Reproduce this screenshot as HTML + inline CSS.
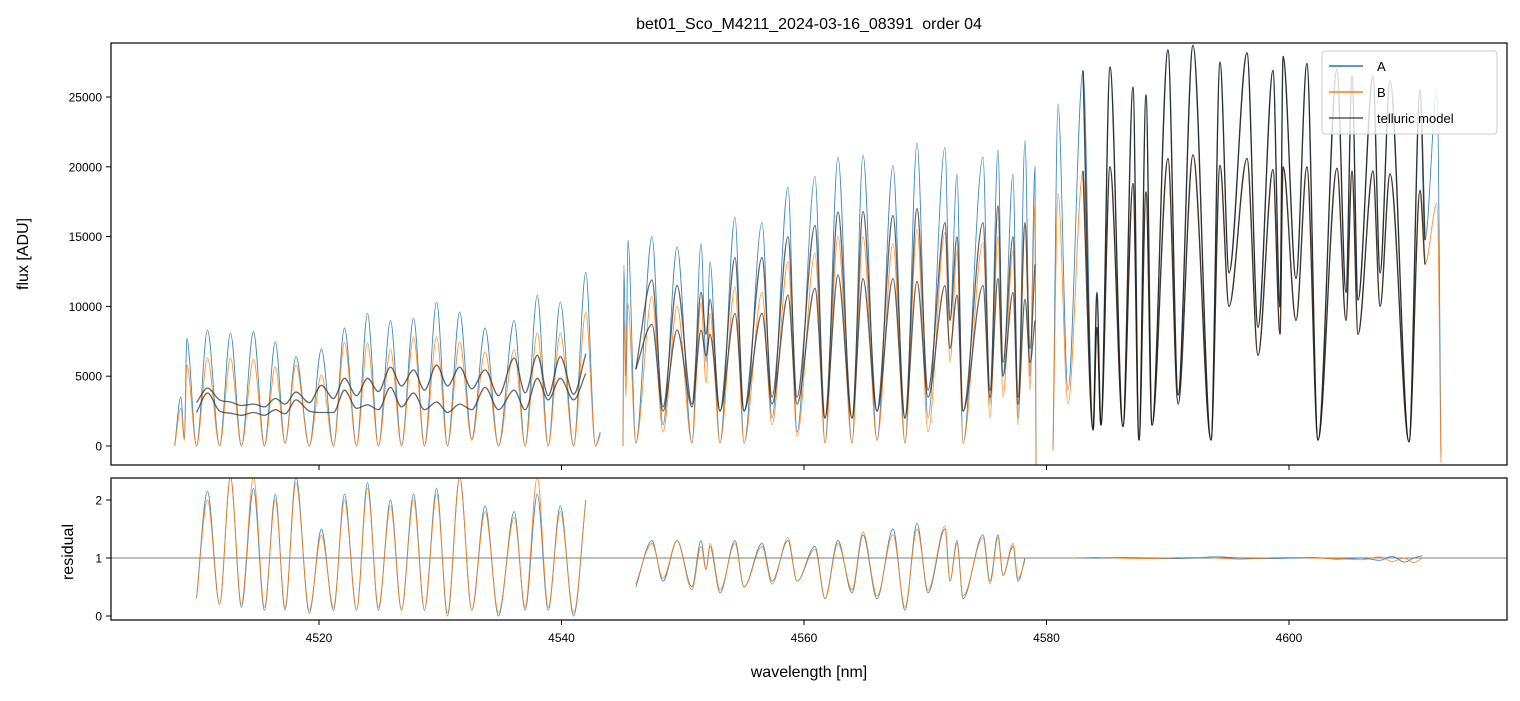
<!DOCTYPE html>
<html><head><meta charset="utf-8"><style>
body{margin:0;background:#fff}
svg text{font-family:"Liberation Sans","DejaVu Sans",sans-serif}
</style></head><body>
<svg id="fig" width="1520" height="696" xmlns="http://www.w3.org/2000/svg">
<defs>
<clipPath id="c1"><rect x="111" y="43" width="1396" height="422"/></clipPath>
<clipPath id="c2"><rect x="111" y="478" width="1396" height="142"/></clipPath>
</defs>
<text x="809" y="29" font-size="16" text-anchor="middle">bet01_Sco_M4211_2024-03-16_08391&#160; order 04</text>
<g id="topPanel"></g>
<g id="botPanel"></g>
<rect x="111" y="43" width="1396" height="422" fill="none" stroke="#000" stroke-width="1.2"/>
<rect x="111" y="478" width="1396" height="142" fill="none" stroke="#000" stroke-width="1.2"/>
<text transform="translate(28,254) rotate(-90)" font-size="16" text-anchor="middle">flux [ADU]</text>
<text transform="translate(73,552) rotate(-90)" font-size="16" text-anchor="middle">residual</text>
<text x="809" y="677" font-size="16" text-anchor="middle">wavelength [nm]</text>
<g id="legendG">
<rect x="1322" y="51" width="175" height="83" rx="3" fill="#fff" fill-opacity="0.8" stroke="#ccc"/>
<line x1="1329" y1="66" x2="1363" y2="66" stroke="#1f77b4" stroke-width="1.5"/>
<text x="1377" y="71" font-size="13">A</text>
<line x1="1329" y1="92" x2="1363" y2="92" stroke="#ff7f0e" stroke-width="1.5"/>
<text x="1377" y="97" font-size="13">B</text>
<line x1="1329" y1="118" x2="1363" y2="118" stroke="#555" stroke-width="1.5"/>
<text x="1377" y="123" font-size="13">telluric model</text>
</g>
</svg>
<script>
const lam1=[4508.1,4508.6,4508.9,4509.1,4509.9,4510.8,4511.8,4512.7,4513.6,4514.6,4515.5,4516.4,4517.2,4518.1,4519.2,4520.2,4521.2,4522.1,4523.1,4524.0,4524.9,4525.9,4526.8,4527.8,4528.7,4529.7,4530.6,4531.6,4532.6,4533.7,4534.8,4536.1,4537.0,4538.0,4538.9,4539.9,4541.0,4542.0,4542.8,4543.2];
const fluxA1=[0,3500,500,7700,0,8300,0,8100,0,8200,0,7450,200,6400,0,6950,0,8450,0,9500,0,9000,0,9150,0,10300,0,9600,500,8450,0,9000,0,10800,0,10300,0,12450,0,1000];
const fluxB1=[0,2700,400,5800,0,6300,0,6300,0,6200,0,5700,200,5800,0,5100,0,7400,0,7400,0,6900,0,7800,0,7800,0,7450,400,6750,0,6900,0,8100,0,8100,0,9600,0,800];
const modelHi1=[3100,4150,3300,3150,2900,3000,2800,3400,3000,3870,3100,4350,3400,4850,3600,4850,3900,5650,4300,5450,4000,5800,4300,5650,4100,5450,3600,6300,3800,6500,3600,6400,3700,6600];
const modelLo1=[2400,3800,2500,2350,2200,2400,2200,2600,2300,3300,2500,2400,2400,4000,2700,2950,2600,4200,2800,3800,2600,3150,2400,3000,2600,4200,2600,4000,2600,4850,3300,4850,3300,5200];
const resA1=[0.3,2.15,0.2,2.4,0.15,2.2,0.1,2.1,0.1,2.4,0.05,1.5,0.1,2.1,0.1,2.3,0.1,2.0,0.1,2.1,0.1,2.2,0.0,2.4,0.1,1.9,0.0,1.8,0.1,2.1,0.1,1.9,0.0,2.0];
const resB1=[0.3,2.0,0.2,2.4,0.2,2.4,0.15,2.0,0.15,2.3,0.1,1.4,0.15,2.0,0.1,2.2,0.15,1.9,0.1,2.0,0.1,2.1,0.05,2.4,0.1,1.8,0.05,1.7,0.15,2.4,0.15,1.8,0.05,2.0];

const lam2=[4545.07,4545.15,4545.31,4545.48,4546.13,4547.46,4548.37,4549.53,4550.76,4551.51,4551.92,4552.25,4553.07,4554.31,4555.05,4556.54,4557.36,4558.68,4559.42,4560.91,4561.73,4562.80,4563.96,4564.87,4566.02,4567.34,4568.33,4569.32,4570.23,4571.63,4572.04,4572.62,4573.11,4574.76,4575.34,4576.00,4576.41,4577.24,4577.65,4578.23,4578.64,4579.05,4579.13];
const fluxA2=[0,12950,5000,14750,200,15000,1500,14250,200,14500,6000,13200,200,16400,200,16000,2000,18550,1000,19300,200,20700,200,20850,400,20100,200,21700,2000,21400,9000,19500,200,20700,3000,21200,5000,19500,2000,21900,5000,20000,-1500];
const fluxB2=[0,9000,3500,10200,200,10700,1000,10000,200,10300,4500,9500,200,11400,200,11000,1500,13200,700,13800,200,15000,200,15000,400,14500,200,15500,1000,15300,6000,14000,200,14600,2000,15000,3500,14000,1500,15800,4000,17400,-1500];
const modelHi2=[5500,11900,2800,11500,3000,11000,8000,10500,2500,13500,2500,13500,3500,15000,3500,15800,2000,16760,2000,16800,2500,16500,2000,17000,4000,16000,9000,15000,2500,16000,4000,17200,6000,15000,3500,16000,7000,13000];
const modelLo2=[5500,8700,2500,8300,2800,8300,6500,8000,2500,9500,2500,9500,3000,10800,3000,11300,2000,12250,2000,12000,2500,12000,2000,11800,3500,11500,7000,10800,2500,11500,3500,12000,5000,11000,3000,10500,6000,9000];
const resA2=[0.5,1.3,0.6,1.3,0.5,1.3,0.8,1.2,0.4,1.3,0.5,1.25,0.6,1.3,0.6,1.2,0.3,1.3,0.4,1.4,0.3,1.5,0.1,1.6,0.4,1.5,0.6,1.3,0.3,1.4,0.6,1.4,0.7,1.2,0.6,1.0];
const resB2=[0.55,1.25,0.65,1.3,0.45,1.2,0.8,1.25,0.45,1.25,0.5,1.2,0.55,1.35,0.6,1.15,0.3,1.25,0.45,1.45,0.35,1.4,0.15,1.5,0.45,1.55,0.6,1.25,0.35,1.35,0.55,1.35,0.7,1.25,0.65,0.95];

const lam3=[4580.54,4580.95,4581.77,4583.01,4583.84,4584.16,4584.49,4585.24,4586.31,4587.13,4587.63,4588.21,4588.70,4590.02,4590.85,4592.08,4593.57,4594.31,4595.05,4596.54,4597.44,4598.68,4599.26,4599.51,4600.58,4601.48,4602.39,4603.96,4604.70,4605.20,4605.69,4606.93,4607.51,4608.33,4609.90,4610.80,4611.22,4612.21,4612.54];
const fluxA3=[-300,24500,4000,26900,1150,11000,1500,27150,1400,25700,430,25150,1500,28370,3650,28700,430,27500,12400,28150,8500,26900,9950,27900,12000,27400,430,27000,11000,26500,10450,26500,12400,26200,300,25500,14750,25500,-800];
const fluxB3=[-300,18100,3000,19700,1150,8500,1500,20000,1400,18800,430,18200,1500,20600,3000,20850,430,20100,10000,20600,6500,19800,8000,20000,9000,20000,430,19900,9000,19700,8000,19700,10000,19500,300,18300,13000,17400,-1200];
const resLam3=[4582.0,4584,4586,4588,4590,4592,4594,4596,4598,4600,4602,4604,4606,4607.5,4608.5,4609.5,4610.3,4611.0];
const resA3=[1.0,1.0,1.01,1.0,0.99,1.0,1.02,1.0,0.99,1.0,1.01,0.98,1.0,0.96,1.03,0.93,1.0,1.04];
const resB3=[1.0,1.01,1.0,0.99,1.0,1.01,1.0,0.98,1.0,1.01,1.0,0.99,0.97,1.02,0.94,1.0,0.92,1.0];

const xTicks=[4520,4540,4560,4580,4600];
const yTicks=[0,5000,10000,15000,20000,25000];
const rTicks=[0,1,2];

const X=l=>319+(l-4520)*12.125;
const Y=v=>446-v*0.01396;
const R=v=>616-v*58;
const NS='http://www.w3.org/2000/svg';
function mk(tag,attrs,parent){const e=document.createElementNS(NS,tag);for(const k in attrs)e.setAttribute(k,attrs[k]);parent.appendChild(e);return e;}
// monotone cubic (Fritsch-Carlson) path
function pathD(xs,ys,fy){
  const px=xs.map(X),py=ys.map(fy),n=px.length;
  const d=[],m=new Array(n).fill(0);
  for(let i=0;i<n-1;i++)d.push((py[i+1]-py[i])/((px[i+1]-px[i])||1e-6));
  m[0]=d[0];m[n-1]=d[n-2];
  for(let i=1;i<n-1;i++){m[i]=(d[i-1]*d[i]<=0)?0:(d[i-1]+d[i])/2;}
  for(let i=0;i<n-1;i++){
    if(d[i]===0){m[i]=0;m[i+1]=0;continue;}
    const a=m[i]/d[i],b=m[i+1]/d[i],s=a*a+b*b;
    if(s>9){const t=3/Math.sqrt(s);m[i]=t*a*d[i];m[i+1]=t*b*d[i];}
  }
  let s='M'+px[0].toFixed(1)+','+py[0].toFixed(1);
  for(let i=0;i<n-1;i++){
    const h=(px[i+1]-px[i])/3;
    s+=' C'+(px[i]+h).toFixed(1)+','+(py[i]+m[i]*h).toFixed(1)+' '+(px[i+1]-h).toFixed(1)+','+(py[i+1]-m[i+1]*h).toFixed(1)+' '+px[i+1].toFixed(1)+','+py[i+1].toFixed(1);
  }
  return s;
}
const gTop=document.getElementById('topPanel'),gBot=document.getElementById('botPanel');
const gT=mk('g',{'clip-path':'url(#c1)'},gTop);
const gB=mk('g',{'clip-path':'url(#c2)'},gBot);
function drawLine(g,xs,ys,fy,col,w,op,name){
  const e=mk('path',{d:pathD(xs,ys,fy),fill:'none',stroke:col,'stroke-width':w,'stroke-opacity':op,'stroke-linejoin':'round'},g);
  
  
}
const BL='#1f77b4',OR='#ff7f0e',MD='#333';
[[lam1,fluxA1,fluxB1],[lam2,fluxA2,fluxB2],[lam3,fluxA3,fluxB3]].forEach((s,i)=>{
  drawLine(gT,s[0],s[1],Y,BL,0.9,0.85,'series-a-seg'+(i+1));
  drawLine(gT,s[0],s[2],Y,OR,0.9,0.85,'series-b-seg'+(i+1));
});
drawLine(gT,lam1.slice(4,38),modelHi1,Y,MD,1.3,0.75,'model-upper-seg1');
drawLine(gT,lam1.slice(4,38),modelLo1,Y,MD,1.3,0.75,'model-lower-seg1');
drawLine(gT,lam2.slice(4,42),modelHi2,Y,MD,1.3,0.75,'model-upper-seg2');
drawLine(gT,lam2.slice(4,42),modelLo2,Y,MD,1.3,0.75,'model-lower-seg2');
drawLine(gT,lam3.slice(3,37),fluxA3.slice(3,37),Y,'#1a1a1a',1.4,0.8,'model-upper-seg3');
drawLine(gT,lam3.slice(3,37),fluxB3.slice(3,37),Y,'#1a1a1a',1.4,0.8,'model-lower-seg3');

const refLine=mk('line',{x1:111,x2:1507,y1:R(1),y2:R(1),stroke:'#555','stroke-width':0.7},gB);


drawLine(gB,lam1.slice(4,38),resA1,R,BL,0.9,0.85,'residual-a-seg1');
drawLine(gB,lam1.slice(4,38),resB1,R,OR,0.9,0.85,'residual-b-seg1');
drawLine(gB,lam2.slice(4,40),resA2,R,BL,0.9,0.85,'residual-a-seg2');
drawLine(gB,lam2.slice(4,40),resB2,R,OR,0.9,0.85,'residual-b-seg2');
drawLine(gB,resLam3,resA3,R,BL,0.9,0.85,'residual-a-seg3');
drawLine(gB,resLam3,resB3,R,OR,0.9,0.85,'residual-b-seg3');

const svgEl=document.getElementById('fig');
svgEl.appendChild(document.getElementById('legendG'));

xTicks.forEach(t=>{
  const x=X(t);
  const a=mk('line',{x1:x,x2:x,y1:465,y2:470,stroke:'#000'},svgEl);
  
  
  const b=mk('line',{x1:x,x2:x,y1:620,y2:625,stroke:'#000'},svgEl);
  
  
  const tx=mk('text',{x:x,y:642,'font-size':12,'text-anchor':'middle'},svgEl);
  tx.textContent=t;
  
  
});
yTicks.forEach(t=>{
  const y=Y(t);
  const a=mk('line',{x1:106,x2:111,y1:y,y2:y,stroke:'#000'},svgEl);
  
  
  const tx=mk('text',{x:102,y:y+4.5,'font-size':12,'text-anchor':'end'},svgEl);
  tx.textContent=t;
  
  
});
rTicks.forEach(t=>{
  const y=R(t);
  const a=mk('line',{x1:106,x2:111,y1:y,y2:y,stroke:'#000'},svgEl);
  
  
  const tx=mk('text',{x:102,y:y+4.5,'font-size':12,'text-anchor':'end'},svgEl);
  tx.textContent=t;
  
  
});
</script>
</body></html>
